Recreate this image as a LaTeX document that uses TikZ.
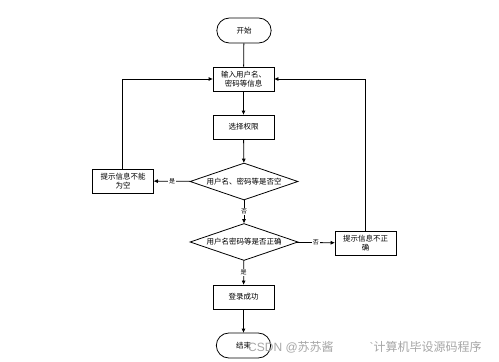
\documentclass[tikz,border=0pt]{standalone}
\usepackage{fontspec}
\newfontfamily\cjk{Noto Sans CJK SC}
\usetikzlibrary{shapes.geometric,shapes.misc,arrows.meta}
\begin{document}
\begin{tikzpicture}[x=1pt,y=-1pt,
  every node/.style={font=\cjk\fontsize{7.5}{9}\selectfont},
  box/.style={draw,thick,minimum width=61pt,minimum height=24pt,align=center,inner sep=1pt},
  term/.style={draw,thick,rounded rectangle,minimum width=61pt,minimum height=25pt},
  dia/.style={draw,thick,diamond,aspect=2.9,minimum width=108pt,minimum height=37pt,inner sep=0pt},
  arr/.style={thick,-{Triangle[length=4pt,width=3.5pt]}},
  lab/.style={fill=white,inner sep=1pt,font=\cjk\fontsize{6}{7}\selectfont}]
\useasboundingbox (0,0) rectangle (499,362);
\node[term] (start) at (244,30.5) {开始};
\node[box] (input) at (243.5,79) {输入用户名、\\密码等信息};
\node[box] (choose) at (243.5,127) {选择权限};
\node[dia] (d1) at (244,181.5) {用户名、密码等是否空};
\node[box] (empty) at (123,181) {提示信息不能\\为空};
\node[dia] (d2) at (244,242) {用户名密码等是否正确};
\node[box] (wrong) at (365.5,243) {提示信息不正\\确};
\node[box] (ok) at (243.5,297) {登录成功};
\node[term] (end) at (243.5,345.5) {结束};
\coordinate (lc) at (122,79);
\coordinate (rc) at (365,79);
\draw[thick] (start) -- (input);
\draw[arr] (input) -- (choose);
\draw[arr] (choose) -- (d1);
\draw[arr] (d1) -- node[lab]{是} (empty);
\draw[arr] (d1) -- node[lab]{否} (d2);
\draw[arr] (d2) -- node[lab]{否} (wrong);
\draw[arr] (d2) -- node[lab]{是} (ok);
\draw[arr] (ok) -- (end);
\draw[arr] (empty.north -| lc) -- (lc) -- (input.west);
\draw[arr] (wrong.north -| rc) -- (rc) -- (input.east);
\node[anchor=west,text=gray!70,inner sep=0pt,font=\fontspec{Liberation Sans}\fontsize{12}{14}\selectfont] (wm) at (248,347) {CSDN @{\cjk 苏苏酱}\hspace*{36pt}`{\cjk 计算机毕设源码程序}};
\end{tikzpicture}
\end{document}
